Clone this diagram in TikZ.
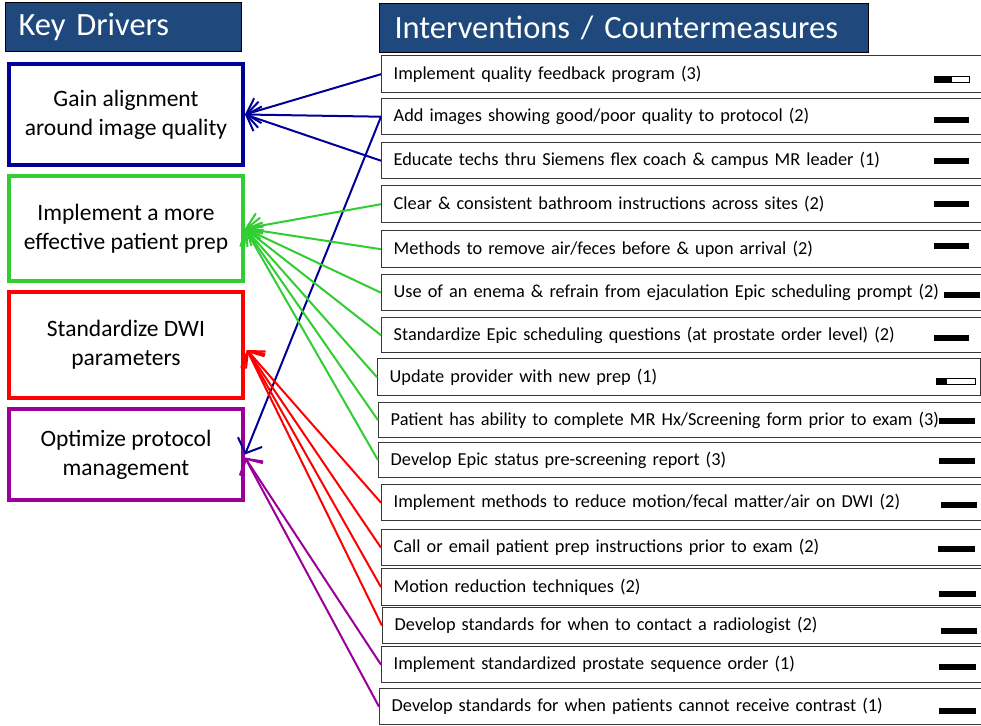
\documentclass[tikz,border=0pt]{standalone}
\usepackage{fontspec}
\setmainfont{Carlito}
\usetikzlibrary{arrows.meta,calc}
\definecolor{hdr}{RGB}{31,73,125}
\definecolor{dblue}{RGB}{0,0,153}
\definecolor{dgreen}{RGB}{50,205,50}
\definecolor{dred}{RGB}{255,0,0}
\definecolor{dpurp}{RGB}{153,0,153}
\definecolor{boxline}{RGB}{55,55,55}
\begin{document}
\begin{tikzpicture}[x=1pt,y=-1pt,
 hdrbox/.style={draw=black, line width=1pt, fill=hdr, text=white, anchor=north west, inner ysep=0pt, align=left, minimum height=49pt, font=\fontsize{32.5}{38}\selectfont},
 drv/.style={line width=4pt, anchor=north west, align=center, inner sep=0pt, minimum width=234pt, font=\fontsize{23.5}{29}\selectfont},
 ibox/.style={draw=boxline, line width=1.4pt, anchor=north west, inner xsep=12pt, inner ysep=0pt, align=left, font=\fontsize{18.3}{21}\selectfont},
 conn/.style={line width=2pt, -{Straight Barb[length=12pt,width=26pt]}},
]
\useasboundingbox (0,0) rectangle (981,725);
\fill[white] (0,0) rectangle (981,725);

% headers
\node[hdrbox, inner xsep=13pt, text width=210pt] (hkd) at (5,2) {Key Drivers};
\node[hdrbox, inner xsep=15pt, text width=459pt] (hint) at (379,3) {Interventions / Countermeasures};

% drivers
\node[drv, draw=dblue, minimum height=101pt] (gain) at (7,62) {Gain alignment\\around image quality};
\node[drv, draw=dgreen, minimum height=105pt] (impl) at (7,174) {Implement a more\\effective patient prep};
\node[drv, draw=dred, minimum height=106pt] (std) at (7,290) {Standardize DWI\\parameters};
\node[drv, draw=dpurp, minimum height=91pt] (opt) at (7,407) {Optimize protocol\\management};

% interventions
\newcommand{\ibx}[6]{\node[ibox, text width=#4pt-24pt, minimum height=#5pt] (#1) at (#2,#3) {#6};}
\ibx{b1}{381}{55}{609}{37}{Implement quality feedback program (3)}
\ibx{b2}{381}{98}{609}{36}{Add images showing good/poor quality to protocol (2)}
\ibx{b3}{381}{142}{609}{36}{Educate techs thru Siemens flex coach \& campus MR leader (1)}
\ibx{b4}{381}{185}{609}{37}{Clear \& consistent bathroom instructions across sites (2)}
\ibx{b5}{381}{230}{609}{37}{Methods to remove air/feces before \& upon arrival (2)}
\ibx{b6}{381}{274}{609}{36}{Use of an enema \& refrain from ejaculation Epic scheduling prompt (2)}
\ibx{b7}{381}{317}{609}{35}{Standardize Epic scheduling questions (at prostate order level) (2)}
\ibx{b8}{377}{358}{603}{37}{Update provider with new prep (1)}
\ibx{b9}{378}{402}{612}{35}{Patient has ability to complete MR Hx/Screening form prior to exam (3)}
\ibx{b10}{378}{442}{612}{35}{Develop Epic status pre-screening report (3)}
\ibx{b11}{381}{484}{609}{36}{Implement methods to reduce motion/fecal matter/air on DWI (2)}
\ibx{b12}{381}{529}{609}{36}{Call or email patient prep instructions prior to exam (2)}
\ibx{b13}{381}{568}{609}{37}{Motion reduction techniques (2)}
\ibx{b14}{382}{607}{608}{36}{Develop standards for when to contact a radiologist (2)}
\ibx{b15}{381}{646}{609}{36}{Implement standardized prostate sequence order (1)}
\ibx{b16}{379}{688}{611}{36}{Develop standards for when patients cannot receive contrast (1)}

% progress bars
\draw[line width=0.6pt] (934,76) rectangle (969,82);
\fill (934,76) rectangle (952,82);
\draw[line width=0.6pt] (936,378) rectangle (975,384);
\fill (936,378) rectangle (947,384);
\foreach \bx/\by/\bw in {934/117/35, 934/158/35, 934/201/35, 934/243/35, 944/292/36, 934/335/35,
  939/418/36, 939/458/36, 941/502/36, 938/546/37, 939/591/37, 941/628/36, 939/664/37, 939/708/37}
  \fill (\bx,\by) rectangle ++(\bw,6);

% connectors
\draw[conn, dblue] (b1.west) -- (gain.east);
\draw[conn, dblue] (b2.west) -- (gain.east);
\draw[conn, dblue] (b3.west) -- (gain.east);
\draw[conn, dblue] (b2.west) -- (opt.east);
\foreach \s in {b4,b5,b6,b7,b8,b9,b10}
  \draw[conn, dgreen] (\s.west) -- (impl.east);
\coordinate (stdtip) at ($(std.east)+(2,5)$);
\foreach \s in {b11,b12,b13,b14}
  \draw[conn, dred] (\s.west) -- (stdtip);
\coordinate (opttip) at ($(opt.east)+(0,3)$);
\foreach \s in {b15,b16}
  \draw[conn, dpurp] (\s.west) -- (opttip);
\end{tikzpicture}
\end{document}
